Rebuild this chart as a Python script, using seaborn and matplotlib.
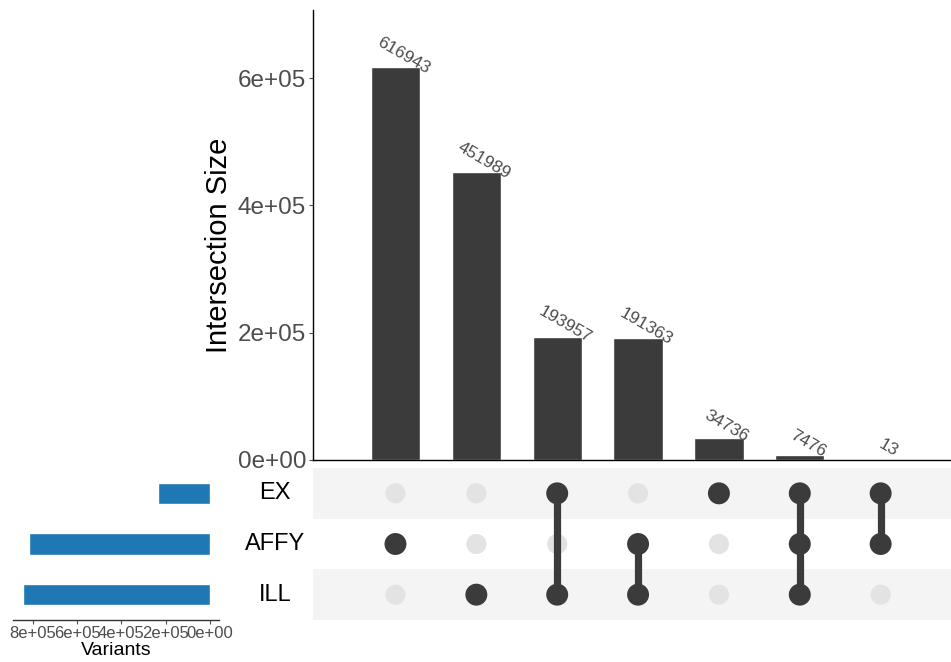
import matplotlib
matplotlib.use("Agg")
import matplotlib.pyplot as plt
from matplotlib.ticker import FuncFormatter
import numpy as np
import pandas as pd
import seaborn as sns

# ------------------------------------------------------------------
# data
# ------------------------------------------------------------------
SET_NAMES = ["EX", "AFFY", "ILL"]
SET_SIZES = [236182, 815795, 844785]

# one entry per intersection column (left to right)
INTERSECTION_SIZES = [616943, 451989, 193957, 191363, 34736, 7476, 13]
INTERSECTION_MEMBERS = [
    ["AFFY"],
    ["ILL"],
    ["EX", "ILL"],
    ["AFFY", "ILL"],
    ["EX"],
    ["EX", "AFFY", "ILL"],
    ["EX", "AFFY"],
]

BAR_COLOR = "#3b3b3b"
SET_COLOR = "#1f77b4"
DOT_OFF = "#e3e3e3"
STRIPE = "#f4f4f4"
TICK_GREY = "#4d4d4d"

sns.set_theme(style="white")
plt.rcParams["font.family"] = ["Liberation Sans", "DejaVu Sans"]

W, H = 951, 662
fig = plt.figure(figsize=(W / 100, H / 100), dpi=100)


def px_axes(x0, y0, x1, y1):
    """Axes from pixel box (top-left origin)."""
    return fig.add_axes([x0 / W, (H - y1) / H, (x1 - x0) / W, (y1 - y0) / H])


ax_bar = px_axes(313, 10, 951, 460)
ax_mat = px_axes(313, 468, 951, 620)
ax_set = px_axes(13, 468, 219, 620)

n_cols = len(INTERSECTION_SIZES)
cols = list(range(n_cols))
xlim = (-1.02, 6.87)

# ------------------------------------------------------------------
# intersection size bars
# ------------------------------------------------------------------
bar_df = pd.DataFrame({"col": cols, "size": INTERSECTION_SIZES})
sns.barplot(data=bar_df, x="col", y="size", color=BAR_COLOR, saturation=1,
            width=0.61, native_scale=True, ax=ax_bar)
for c, v in zip(cols, INTERSECTION_SIZES):
    ax_bar.annotate(str(v), (c, v), xytext=(8, 12), textcoords="offset pixels",
                    ha="center", va="center", rotation=-30, fontsize=12.5,
                    color=TICK_GREY)
ax_bar.set_xlim(*xlim)
ax_bar.set_ylim(0, 707000)
ax_bar.set_yticks([0, 2e5, 4e5, 6e5])
ax_bar.yaxis.set_major_formatter(FuncFormatter(lambda v, p: f"{v:.0e}"))
ax_bar.tick_params(axis="y", labelsize=17.5, colors=TICK_GREY, length=3,
                   width=0.8, left=True, pad=2)
ax_bar.tick_params(axis="x", bottom=False, labelbottom=False)
ax_bar.set_xlabel("")
ax_bar.set_ylabel("Intersection Size", fontsize=21, color="black")
ax_bar.yaxis.set_label_coords(-0.125, 0.476)
for s in ["top", "right"]:
    ax_bar.spines[s].set_visible(False)
for s in ["left", "bottom"]:
    ax_bar.spines[s].set_color("black")
    ax_bar.spines[s].set_linewidth(1.0)

# ------------------------------------------------------------------
# matrix
# ------------------------------------------------------------------
row_of = {name: i for i, name in enumerate(SET_NAMES)}
for i in range(len(SET_NAMES)):
    if i % 2 == 0:
        ax_mat.axhspan(i - 0.5, i + 0.5, color=STRIPE, lw=0, zorder=0)

grid = pd.DataFrame([(c, r) for c in cols for r in range(len(SET_NAMES))],
                    columns=["col", "row"])
sns.scatterplot(data=grid, x="col", y="row", s=210, color=DOT_OFF,
                edgecolor="none", ax=ax_mat, zorder=2)

on = pd.DataFrame([(c, row_of[m]) for c, mem in zip(cols, INTERSECTION_MEMBERS)
                   for m in mem], columns=["col", "row"])
for c, grp in on.groupby("col"):
    if len(grp) > 1:
        ax_mat.plot([c, c], [grp["row"].min(), grp["row"].max()],
                    color=BAR_COLOR, lw=5.2, zorder=3, solid_capstyle="butt")
sns.scatterplot(data=on, x="col", y="row", s=250, color=BAR_COLOR,
                edgecolor="none", ax=ax_mat, zorder=4)

ax_mat.set_xlim(*xlim)
ax_mat.set_ylim(len(SET_NAMES) - 0.5, -0.5)
ax_mat.set_axis_off()
for i, name in enumerate(SET_NAMES):
    ax_mat.text((275 - 313) / (951 - 313), i, name, transform=ax_mat.get_yaxis_transform(),
                ha="center", va="center", fontsize=17, color="black")

# ------------------------------------------------------------------
# set sizes
# ------------------------------------------------------------------
set_df = pd.DataFrame({"set": SET_NAMES, "size": SET_SIZES})
sns.barplot(data=set_df, x="size", y="set", orient="h", color=SET_COLOR,
            saturation=1, width=0.42, ax=ax_set)
ax_set.set_xlim(889000, -40000)
ax_set.set_ylim(len(SET_NAMES) - 0.5, -0.5)
ax_set.set_xticks([8e5, 6e5, 4e5, 2e5, 0])
ax_set.xaxis.set_major_formatter(FuncFormatter(lambda v, p: f"{v:.0e}"))
ax_set.tick_params(axis="x", labelsize=12, colors=TICK_GREY, length=3,
                   width=0.8, bottom=True, pad=1)
ax_set.tick_params(axis="y", left=False, labelleft=False)
ax_set.set_ylabel("")
ax_set.set_xlabel("Variants", fontsize=14, color="black", labelpad=1)
for s in ["top", "right", "left"]:
    ax_set.spines[s].set_visible(False)
ax_set.spines["bottom"].set_color("#333333")
ax_set.spines["bottom"].set_linewidth(1.0)

fig.savefig("out.png", dpi=100)
